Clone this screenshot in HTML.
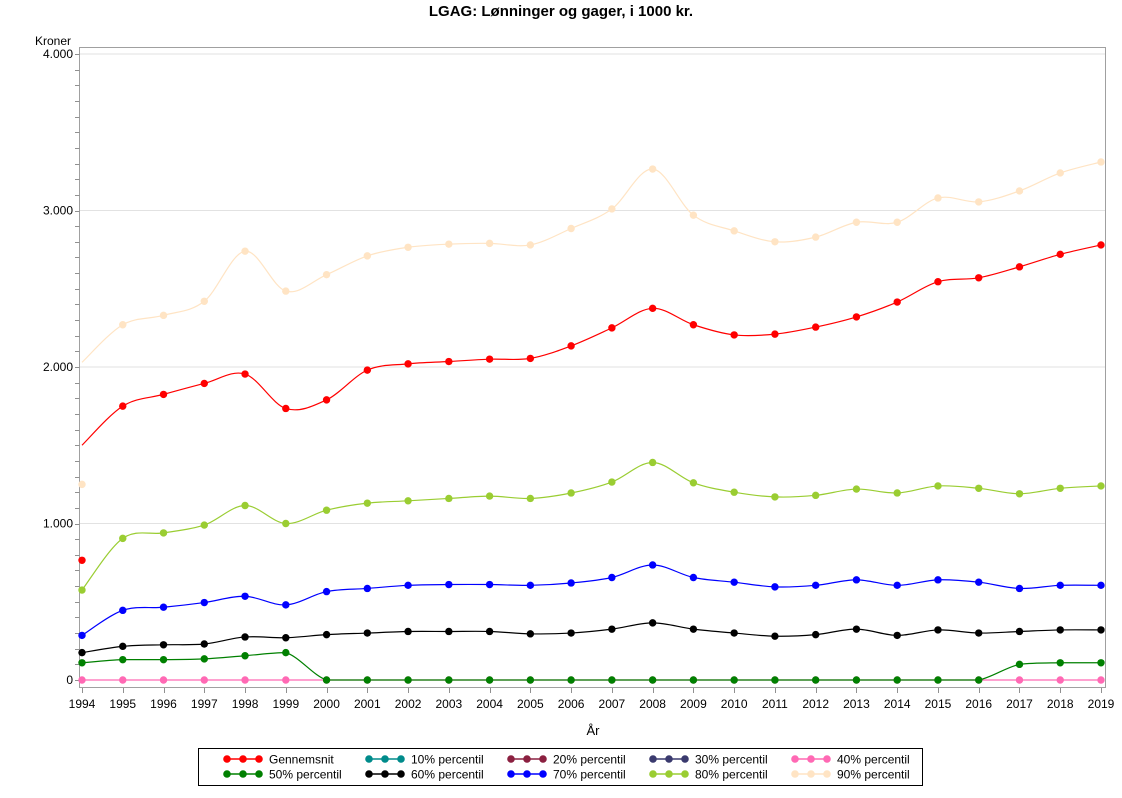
<!DOCTYPE html>
<html><head><meta charset="utf-8">
<style>
body{margin:0;background:#fff;width:1122px;height:793px;overflow:hidden}
svg{font-family:"Liberation Sans",Arial,sans-serif}
</style></head>
<body>
<svg id="s" width="1122" height="793" xmlns="http://www.w3.org/2000/svg">
<rect width="1122" height="793" fill="#fff"/>
<text x="561" y="16" text-anchor="middle" font-size="15" font-weight="bold">LGAG: Lønninger og gager, i 1000 kr.</text>
<text x="35" y="45" font-size="12">Kroner</text>
<text x="593" y="735" text-anchor="middle" font-size="13">År</text>
<rect x="198.5" y="748.5" width="724" height="37" fill="none" stroke="#000" stroke-width="1"/>
</svg>
<script>
const s=document.getElementById('s');const NS='http://www.w3.org/2000/svg';
function el(t,a,txt){const e=document.createElementNS(NS,t);for(const k in a)e.setAttribute(k,a[k]);if(txt!=null)e.textContent=txt;s.appendChild(e);return e;}
const X=y=>82+(y-1994)*40.76, Y=v=>680-v*0.1565;
for(let v=1000;v<=4000;v+=1000) el('line',{x1:80,x2:1106,y1:Y(v),y2:Y(v),stroke:'#e2e2e2'});
el('rect',{x:79.5,y:47.5,width:1026,height:640,fill:'none',stroke:'#a0a0a0'});
for(let v=0;v<=4000;v+=100){const y=Math.round(Y(v))+.5;el('line',{x1:75,x2:79.5,y1:y,y2:y,stroke:'#909090'});}
const lbl=['0','1.000','2.000','3.000','4.000'];
lbl.forEach((t,i)=>el('text',{x:73,y:Y(i*1000)+4,'text-anchor':'end','font-size':12},t));
for(let yr=1994;yr<=2019;yr++){const x=Math.round(X(yr))+.5;el('line',{x1:x,x2:x,y1:688,y2:693,stroke:'#909090'});el('text',{x:X(yr),y:708,'text-anchor':'middle','font-size':12},String(yr));}
const yrs=[];for(let y=1994;y<=2019;y++)yrs.push(y);
function path(vals,clamp){const p=vals.map((v,i)=>[X(1994+i),Y(v)]);let d='M'+p[0][0]+','+p[0][1];
for(let i=0;i<p.length-1;i++){const p0=p[i-1]||p[i],p1=p[i],p2=p[i+1],p3=p[i+2]||p2;const t=6;
let c1y=p1[1]+(p2[1]-p0[1])/t,c2y=p2[1]-(p3[1]-p1[1])/t;
if(clamp){const lo=Math.min(p1[1],p2[1]),hi=Math.max(p1[1],p2[1]);c1y=Math.max(lo,Math.min(hi,c1y));c2y=Math.max(lo,Math.min(hi,c2y));}
d+=` C${p1[0]+(p2[0]-p0[0])/t},${c1y} ${p2[0]-(p3[0]-p1[0])/t},${c2y} ${p2[0]},${p2[1]}`;}return d;}
function series(vals,col,first,clamp){const lv=vals.slice();if(first!=null)lv[0]=first;
el('path',{d:path(lv,clamp),fill:'none',stroke:col,'stroke-width':1.2});
vals.forEach((v,i)=>el('circle',{cx:X(1994+i),cy:Y(v),r:3.7,fill:col}));}
const zero=yrs.map(()=>0);
series(zero,'#ff69b4');
series([110,130,130,135,155,175,0,0,0,0,0,0,0,0,0,0,0,0,0,0,0,0,0,100,110,110],'#008000',null,true);
series([175,215,225,230,275,270,290,300,310,310,310,295,300,325,365,325,300,280,290,325,285,320,300,310,320,320],'#000000');
series([285,445,465,495,535,480,565,585,605,610,610,605,620,655,735,655,625,595,605,640,605,640,625,585,605,605],'#0000ff');
series([575,905,940,990,1115,1000,1085,1130,1145,1160,1175,1160,1195,1265,1390,1260,1200,1170,1180,1220,1195,1240,1225,1190,1225,1240],'#9acd32');
series([765,1750,1825,1895,1955,1735,1790,1980,2020,2035,2050,2055,2135,2250,2375,2270,2205,2210,2255,2320,2415,2545,2570,2640,2720,2780],'#ff0000',1500);
series([1250,2270,2330,2420,2740,2485,2590,2710,2765,2785,2790,2780,2885,3010,3265,2970,2870,2800,2830,2925,2925,3080,3055,3125,3240,3310],'#ffe4c4',2030);
const L=[['Gennemsnit','#ff0000'],['10% percentil','#008b8b'],['20% percentil','#8b2040'],['30% percentil','#3a3a6e'],['40% percentil','#ff69b4'],
['50% percentil','#008000'],['60% percentil','#000000'],['70% percentil','#0000ff'],['80% percentil','#9acd32'],['90% percentil','#ffe4c4']];
L.forEach((it,i)=>{const c=i%5,r=Math.floor(i/5);const x0=227+c*142,y=759+r*15;
el('line',{x1:x0,x2:x0+32,y1:y,y2:y,stroke:it[1],'stroke-width':1.5});
[0,16,32].forEach(d=>el('circle',{cx:x0+d,cy:y,r:3.8,fill:it[1]}));
el('text',{x:x0+42,y:y+4.5,'font-size':12},it[0]);});
</script>
</body></html>
